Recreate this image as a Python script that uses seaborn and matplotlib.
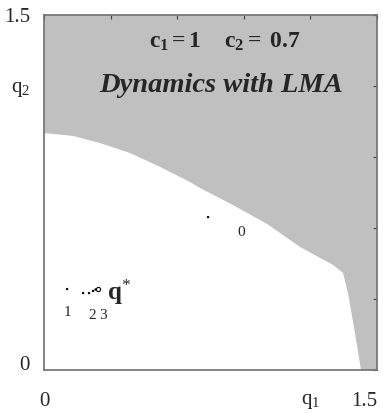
import matplotlib
matplotlib.use("Agg")
import matplotlib.pyplot as plt
import seaborn as sns
import pandas as pd

# boundary of the white (admissible) region
bound_q1 = [0.0, 0.131, 0.252, 0.387, 0.523, 0.658, 0.703, 0.851, 1.005, 1.153, 1.302, 1.347, 1.369, 1.396, 1.428]
bound_q2 = [1.001, 0.989, 0.959, 0.917, 0.858, 0.794, 0.769, 0.697, 0.617, 0.520, 0.444, 0.410, 0.325, 0.182, 0.0]

# trajectory points
traj_q1 = [0.739, 0.104, 0.176, 0.203, 0.221, 0.232]
traj_q2 = [0.646, 0.342, 0.325, 0.325, 0.334, 0.340]
qstar = (0.243, 0.342)

point_labels = ["0", "1", "2", "3"]
label_q1 = [0.887, 0.108, 0.216, 0.266]
label_q2 = [0.583, 0.245, 0.232, 0.232]

xtick_vals = [0, 0.3, 0.6, 0.9, 1.2, 1.5]
xtick_labels = ["0", "", "", "", r"q$_1$", "1.5"]
ytick_vals = [0, 0.3, 0.6, 0.9, 1.2, 1.5]
ytick_labels = ["0", "", "", "", r"q$_2$", "1.5"]

sns.set_style("white")
plt.rcParams["font.family"] = ["Liberation Serif", "DejaVu Serif"]
plt.rcParams["mathtext.fontset"] = "custom"
plt.rcParams["mathtext.rm"] = "Liberation Serif"
plt.rcParams["mathtext.it"] = "Liberation Serif:italic"
plt.rcParams["mathtext.bf"] = "Liberation Serif:bold"

fig = plt.figure(figsize=(3.83, 4.13), dpi=100)
ax = fig.add_axes([0.1149, 0.1041, 0.8695, 0.8596])

# gray region above the boundary
poly_x = bound_q1 + [1.5, 1.5, 0.0]
poly_y = bound_q2 + [0.0, 1.5, 1.5]
ax.fill(poly_x, poly_y, color="#c0c0c0", lw=0, zorder=0)

df = pd.DataFrame({"q1": traj_q1, "q2": traj_q2})
sns.scatterplot(data=df, x="q1", y="q2", ax=ax, color="black", s=3, marker="o",
                edgecolor="none", zorder=3)
ax.plot([qstar[0]], [qstar[1]], marker="o", ms=3, mfc="white", mec="black", mew=0.8, zorder=4)

for t, x, y in zip(point_labels, label_q1, label_q2):
    ax.text(x, y, t, fontsize=11, ha="center", va="center")
ax.text(0.285, 0.327, r"$\mathbf{q}^{*}$", fontsize=18, ha="left", va="center")

ax.text(0.815, 1.385, r"$\mathbf{c_1 = 1}$    $\mathbf{c_2{=}\ 0.7}$", fontsize=17,
        ha="center", va="center")
ax.text(0.797, 1.200, "Dynamics with LMA", fontsize=20.5, fontweight="bold",
        fontstyle="italic", ha="center", va="center")

ax.set_xlim(0, 1.5)
ax.set_ylim(0, 1.5)
ax.set_xticks(xtick_vals)
ax.set_xticklabels(xtick_labels, fontsize=15)
ax.set_yticks(ytick_vals)
ax.set_yticklabels(ytick_labels, fontsize=15)
ax.set_xlabel("")
ax.set_ylabel("")
ax.tick_params(axis="both", direction="in", length=3, width=0.8, color="#404040",
               top=True, right=True)
ax.tick_params(axis="x", pad=16)
ax.tick_params(axis="y", pad=10)
xl = ax.get_xticklabels()
xl[-1].set_horizontalalignment("right")
xl[-1].set_x(1.52)
yl = ax.get_yticklabels()
yl[0].set_verticalalignment("baseline")
for s in ax.spines.values():
    s.set_color("#707070")
    s.set_linewidth(1.2)
    s.set_visible(True)

fig.savefig("out.png", dpi=100)
